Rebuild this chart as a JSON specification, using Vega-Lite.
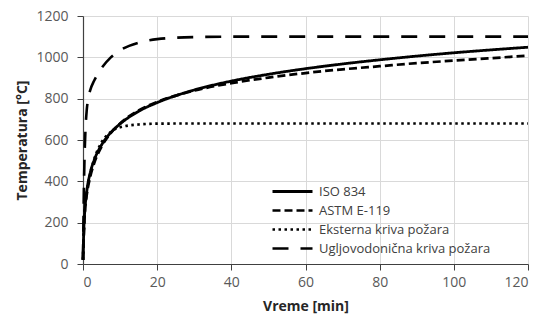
{
  "$schema": "https://vega.github.io/schema/vega-lite/v6.json",
  "width": 445,
  "height": 248,
  "autosize": "none",
  "padding": {"left": 83, "top": 16, "right": 16, "bottom": 63},
  "background": "white",
  "config": {
    "view": {"stroke": null},
    "font": "Open Sans",
    "axis": {
      "labelFont": "Open Sans",
      "titleFont": "Open Sans",
      "labelFontSize": 14,
      "labelColor": "#595959",
      "titleFontSize": 14,
      "titleColor": "#262626",
      "titleFontWeight": "bold",
      "gridColor": "#d9d9d9",
      "gridWidth": 1,
      "domainColor": "#404040",
      "domainWidth": 1.2,
      "tickColor": "#404040",
      "tickSize": 6,
      "format": "d"
    }
  },
  "data": {
    "values": [
      {"s": "ISO 834", "t": 0, "T": 20},
      {"s": "ISO 834", "t": 0.25, "T": 182},
      {"s": "ISO 834", "t": 0.5, "T": 261},
      {"s": "ISO 834", "t": 1, "T": 349},
      {"s": "ISO 834", "t": 2, "T": 445},
      {"s": "ISO 834", "t": 3, "T": 502},
      {"s": "ISO 834", "t": 5, "T": 576},
      {"s": "ISO 834", "t": 7.5, "T": 636},
      {"s": "ISO 834", "t": 10, "T": 678},
      {"s": "ISO 834", "t": 15, "T": 739},
      {"s": "ISO 834", "t": 20, "T": 781},
      {"s": "ISO 834", "t": 30, "T": 842},
      {"s": "ISO 834", "t": 40, "T": 885},
      {"s": "ISO 834", "t": 50, "T": 918},
      {"s": "ISO 834", "t": 60, "T": 945},
      {"s": "ISO 834", "t": 70, "T": 968},
      {"s": "ISO 834", "t": 80, "T": 988},
      {"s": "ISO 834", "t": 90, "T": 1006},
      {"s": "ISO 834", "t": 100, "T": 1022},
      {"s": "ISO 834", "t": 110, "T": 1036},
      {"s": "ISO 834", "t": 120, "T": 1049},
      {"s": "ASTM E-119", "t": 0, "T": 20},
      {"s": "ASTM E-119", "t": 0.5, "T": 255},
      {"s": "ASTM E-119", "t": 1, "T": 333},
      {"s": "ASTM E-119", "t": 2, "T": 426},
      {"s": "ASTM E-119", "t": 3, "T": 487},
      {"s": "ASTM E-119", "t": 5, "T": 568},
      {"s": "ASTM E-119", "t": 7.5, "T": 634},
      {"s": "ASTM E-119", "t": 10, "T": 680},
      {"s": "ASTM E-119", "t": 15, "T": 743},
      {"s": "ASTM E-119", "t": 20, "T": 784},
      {"s": "ASTM E-119", "t": 30, "T": 839},
      {"s": "ASTM E-119", "t": 40, "T": 875},
      {"s": "ASTM E-119", "t": 50, "T": 902},
      {"s": "ASTM E-119", "t": 60, "T": 924},
      {"s": "ASTM E-119", "t": 70, "T": 942},
      {"s": "ASTM E-119", "t": 80, "T": 957},
      {"s": "ASTM E-119", "t": 90, "T": 972},
      {"s": "ASTM E-119", "t": 100, "T": 984},
      {"s": "ASTM E-119", "t": 110, "T": 996},
      {"s": "ASTM E-119", "t": 120, "T": 1008},
      {"s": "Eksterna kriva požara", "t": 0, "T": 20},
      {"s": "Eksterna kriva požara", "t": 0.25, "T": 182},
      {"s": "Eksterna kriva požara", "t": 0.5, "T": 263},
      {"s": "Eksterna kriva požara", "t": 1, "T": 346},
      {"s": "Eksterna kriva požara", "t": 2, "T": 441},
      {"s": "Eksterna kriva požara", "t": 3, "T": 506},
      {"s": "Eksterna kriva požara", "t": 5, "T": 588},
      {"s": "Eksterna kriva požara", "t": 7.5, "T": 639},
      {"s": "Eksterna kriva požara", "t": 10, "T": 662},
      {"s": "Eksterna kriva požara", "t": 15, "T": 675},
      {"s": "Eksterna kriva požara", "t": 20, "T": 679},
      {"s": "Eksterna kriva požara", "t": 30, "T": 680},
      {"s": "Eksterna kriva požara", "t": 60, "T": 680},
      {"s": "Eksterna kriva požara", "t": 90, "T": 680},
      {"s": "Eksterna kriva požara", "t": 120, "T": 680},
      {"s": "Ugljovodonična kriva požara", "t": 0, "T": 20},
      {"s": "Ugljovodonična kriva požara", "t": 0.25, "T": 373},
      {"s": "Ugljovodonična kriva požara", "t": 0.5, "T": 568},
      {"s": "Ugljovodonična kriva požara", "t": 0.75, "T": 679},
      {"s": "Ugljovodonična kriva požara", "t": 1, "T": 743},
      {"s": "Ugljovodonična kriva požara", "t": 1.5, "T": 810},
      {"s": "Ugljovodonična kriva požara", "t": 2, "T": 844},
      {"s": "Ugljovodonična kriva požara", "t": 3, "T": 887},
      {"s": "Ugljovodonična kriva požara", "t": 4, "T": 920},
      {"s": "Ugljovodonična kriva požara", "t": 5, "T": 948},
      {"s": "Ugljovodonična kriva požara", "t": 7.5, "T": 1000},
      {"s": "Ugljovodonična kriva požara", "t": 10, "T": 1034},
      {"s": "Ugljovodonična kriva požara", "t": 15, "T": 1071},
      {"s": "Ugljovodonična kriva požara", "t": 20, "T": 1088},
      {"s": "Ugljovodonična kriva požara", "t": 30, "T": 1098},
      {"s": "Ugljovodonična kriva požara", "t": 40, "T": 1100},
      {"s": "Ugljovodonična kriva požara", "t": 60, "T": 1100},
      {"s": "Ugljovodonična kriva požara", "t": 90, "T": 1100},
      {"s": "Ugljovodonična kriva požara", "t": 120, "T": 1100}
    ]
  },
  "mark": {"type": "line", "interpolate": "monotone", "color": "black"},
  "encoding": {
    "x": {
      "field": "t", "type": "quantitative",
      "scale": {"domain": [0, 120], "nice": false},
      "axis": {"values": [0, 20, 40, 60, 80, 100, 120], "title": "Vreme [min]", "labelPadding": 5, "titlePadding": 10}
    },
    "y": {
      "field": "T", "type": "quantitative",
      "scale": {"domain": [0, 1200], "nice": false},
      "axis": {"values": [0, 200, 400, 600, 800, 1000, 1200], "title": "Temperatura [°C]", "labelPadding": 9, "titlePadding": 6}
    },
    "strokeDash": {
      "field": "s", "type": "nominal",
      "scale": {
        "domain": ["ISO 834", "ASTM E-119", "Eksterna kriva požara", "Ugljovodonična kriva požara"],
        "range": [[1, 0], [8, 4], [2.5, 3.5], [16, 12]]
      },
      "legend": {
        "title": null,
        "orient": "none",
        "legendX": 203,
        "legendY": 169,
        "padding": 0,
        "symbolType": "M-5,0L5,0",
        "symbolSize": 64,
        "symbolStrokeColor": "black",
        "labelFontSize": 13,
        "labelColor": "#404040",
        "labelFont": "Open Sans",
        "labelLimit": 300,
        "rowPadding": 5,
        "labelOffset": 20
      }
    },
    "strokeWidth": {
      "field": "s", "type": "nominal",
      "scale": {
        "domain": ["ISO 834", "ASTM E-119", "Eksterna kriva požara", "Ugljovodonična kriva požara"],
        "range": [2.8, 2.6, 2.5, 4.5]
      }
    }
  }
}
